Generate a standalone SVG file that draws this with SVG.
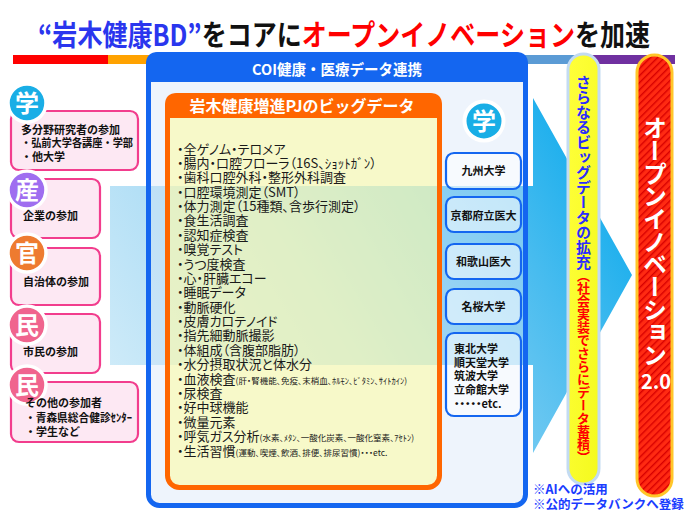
<svg xmlns="http://www.w3.org/2000/svg" width="700" height="521" viewBox="0 0 700 521">
<defs>
  <linearGradient id="bandGrad" gradientUnits="userSpaceOnUse" x1="110" y1="420" x2="620" y2="120">
    <stop offset="0" stop-color="#d4edf9"/>
    <stop offset="0.4" stop-color="#9ed7f4"/>
    <stop offset="0.75" stop-color="#48bcef"/>
    <stop offset="1" stop-color="#05a8ec"/>
  </linearGradient>
  <linearGradient id="yellowGrad" x1="0" y1="0" x2="1" y2="1">
    <stop offset="0" stop-color="#ffff3a"/>
    <stop offset="1" stop-color="#f4fa1e"/>
  </linearGradient>
  <pattern id="hatch" width="5" height="5" patternUnits="userSpaceOnUse" patternTransform="rotate(45)">
    <rect width="5" height="5" fill="#ff2a12"/>
    <rect width="1.4" height="5" fill="#d80000"/>
  </pattern>
</defs>
<style>
  text { font-family: "Noto Sans CJK JP", "Noto Sans", sans-serif; }
  .b { font-weight: bold; }
  .pbox { fill: #fde8f3; stroke: #f23d8d; stroke-width: 2.2; }
  .ring { stroke: #ffffff; stroke-width: 3.5; }
  .badge { fill: #ffffff; font-size: 24px; font-weight: bold; text-anchor: middle; }
  .ltxt { font-size: 11px; font-weight: bold; fill: #111111; }
  .item { font-size: 13px; fill: #1a1a1a; font-feature-settings: "palt"; }
  .small { font-size: 8.5px; }
  .ubox { fill: #ffffff; fill-opacity: 0.55; stroke: #1466f0; stroke-width: 2.2; }
  .utxt { font-size: 11px; font-weight: bold; fill: #111111; text-anchor: middle; }
  .note { font-size: 12.5px; font-weight: bold; fill: #1a3cff; }
  .vert { writing-mode: vertical-rl; font-weight: bold; }
</style>

<rect width="700" height="521" fill="#ffffff"/>

<!-- title -->
<g id="title">
  <text x="38" y="46" font-size="29" class="b" textLength="612" lengthAdjust="spacingAndGlyphs"><tspan fill="#2a36ee">“岩木健康BD”</tspan><tspan fill="#111111">をコアに</tspan><tspan fill="#ff0000">オープンイノベーション</tspan><tspan fill="#111111">を加速</tspan></text>
  <rect x="13" y="55" width="95" height="9" fill="#ff0000"/>
  <rect x="108" y="55" width="95" height="9" fill="#ffa200"/>
  <rect x="203" y="55" width="94" height="9" fill="#ffe600"/>
  <rect x="297" y="55" width="95" height="9" fill="#70ad47"/>
  <rect x="392" y="55" width="94" height="9" fill="#92d050"/>
  <rect x="486" y="55" width="95" height="9" fill="#5b9bd5"/>
  <rect x="581" y="55" width="94" height="9" fill="#7030a0"/>
</g>

<!-- connectors: big flow arrow -->
<g id="connectors">
  <polygon id="flow-arrow" points="110,186 533,186 533,98 632,275 533,453 533,365 110,365" fill="url(#bandGrad)"/>
</g>

<!-- left participants -->
<g id="node-gaku">
  <rect class="pbox" x="11" y="111" width="127" height="59" rx="8"/>
  <circle class="ring" cx="27" cy="103" r="19" fill="#19aee6"/>
  <text class="badge" x="27" y="111.5">学</text>
  <text class="ltxt" x="21" y="134">多分野研究者の参加</text>
  <text class="ltxt" x="21" y="147" textLength="112" lengthAdjust="spacingAndGlyphs">・弘前大学各講座・学部</text>
  <text class="ltxt" x="21" y="161">・他大学</text>
</g>
<g id="node-san">
  <rect class="pbox" x="11" y="179" width="89" height="59" rx="8"/>
  <circle class="ring" cx="27" cy="190" r="19" fill="#9f6ef0"/>
  <text class="badge" x="27" y="198.5">産</text>
  <text class="ltxt" x="23" y="220">企業の参加</text>
</g>
<g id="node-kan">
  <rect class="pbox" x="11" y="248" width="89" height="57" rx="8"/>
  <circle class="ring" cx="27" cy="253" r="19" fill="#ee7b30"/>
  <text class="badge" x="27" y="261.5">官</text>
  <text class="ltxt" x="23" y="286">自治体の参加</text>
</g>
<g id="node-min">
  <rect class="pbox" x="11" y="314" width="89" height="59" rx="8"/>
  <circle class="ring" cx="27" cy="325" r="19" fill="#f0648e"/>
  <text class="badge" x="27" y="333.5">民</text>
  <text class="ltxt" x="23" y="356">市民の参加</text>
</g>
<g id="node-other">
  <rect class="pbox" x="11" y="382" width="127" height="60" rx="8"/>
  <circle class="ring" cx="27" cy="385" r="19" fill="#f0648e"/>
  <text class="badge" x="27" y="393.5">民</text>
  <text class="ltxt" x="25" y="407">その他の参加者</text>
  <text class="ltxt" x="25" y="422" textLength="107" lengthAdjust="spacingAndGlyphs">・青森県総合健診ｾﾝﾀｰ</text>
  <text class="ltxt" x="25" y="436">・学生など</text>
</g>

<!-- COI main box -->
<g id="node-coi">
  <rect x="148.5" y="54.5" width="377" height="451" rx="11" fill="#d5e4f8" fill-opacity="0.4" stroke="#1466f0" stroke-width="5"/>
  <path d="M146,82 V64 Q146,52 158,52 H516 Q528,52 528,64 V82 Z" fill="#1466f0"/>
  <text x="337" y="75" font-size="14.5" class="b" fill="#ffffff" text-anchor="middle">COI健康・医療データ連携</text>
</g>

<!-- Iwaki big data box -->
<g id="node-bigdata">
  <rect x="167.5" y="95.5" width="272" height="392" rx="12" fill="#fefba6" fill-opacity="0.6" stroke="#ff6600" stroke-width="5"/>
  <path d="M165,118 V105 Q165,93 177,93 H430 Q442,93 442,105 V118 Z" fill="#ff6600"/>
  <text x="302" y="112" font-size="16" class="b" fill="#ffffff" text-anchor="middle">岩木健康増進PJのビッグデータ</text>
  <text class="item" x="177" y="153.5">・全ゲノム・テロメア</text>
  <text class="item" x="177" y="167.9">・腸内・口腔フローラ（16S、ｼｮｯﾄｶﾞﾝ）</text>
  <text class="item" x="177" y="182.3">・歯科口腔外科・整形外科調査</text>
  <text class="item" x="177" y="196.6">・口腔環境測定（SMT）</text>
  <text class="item" x="177" y="211">・体力測定（15種類、含歩行測定）</text>
  <text class="item" x="177" y="225.4">・食生活調査</text>
  <text class="item" x="177" y="239.8">・認知症検査</text>
  <text class="item" x="177" y="254.2">・嗅覚テスト</text>
  <text class="item" x="177" y="268.5">・うつ度検査</text>
  <text class="item" x="177" y="282.9">・心・肝臓エコー</text>
  <text class="item" x="177" y="297.3">・睡眠データ</text>
  <text class="item" x="177" y="311.7">・動脈硬化</text>
  <text class="item" x="177" y="326.1">・皮膚カロテノイド</text>
  <text class="item" x="177" y="340.4">・指先細動脈撮影</text>
  <text class="item" x="177" y="354.8">・体組成（含腹部脂肪）</text>
  <text class="item" x="177" y="369.2">・水分摂取状況と体水分</text>
  <text class="item" x="177" y="383.6">・血液検査<tspan class="small">(肝・腎機能、免疫、末梢血、ﾎﾙﾓﾝ、ﾋﾞﾀﾐﾝ、ｻｲﾄｶｲﾝ)</tspan></text>
  <text class="item" x="177" y="398">・尿検査</text>
  <text class="item" x="177" y="412.3">・好中球機能</text>
  <text class="item" x="177" y="426.7">・微量元素</text>
  <text class="item" x="177" y="441.1">・呼気ガス分析<tspan class="small">(水素、ﾒﾀﾝ、一酸化炭素、一酸化窒素、ｱｾﾄﾝ)</tspan></text>
  <text class="item" x="177" y="455.5">・生活習慣<tspan class="small">(運動、喫煙、飲酒、排便、排尿習慣)・・・etc.</tspan></text>
</g>

<!-- universities -->
<g id="node-univ-badge">
  <circle cx="484" cy="121" r="19.5" fill="#19aee6" stroke="#ffffff" stroke-width="4"/>
  <text class="badge" x="484" y="129.5">学</text>
</g>
<g id="node-kyushu">
  <rect class="ubox" x="446" y="153" width="75" height="36" rx="8"/>
  <text class="utxt" x="483.5" y="175">九州大学</text>
</g>
<g id="node-kyoto">
  <rect class="ubox" x="446" y="197" width="75" height="35" rx="8"/>
  <text class="utxt" x="483.5" y="219.5">京都府立医大</text>
</g>
<g id="node-wakayama">
  <rect class="ubox" x="446" y="244" width="75" height="35" rx="8"/>
  <text class="utxt" x="483.5" y="266">和歌山医大</text>
</g>
<g id="node-meio">
  <rect class="ubox" x="446" y="289" width="75" height="35" rx="8"/>
  <text class="utxt" x="483.5" y="311">名桜大学</text>
</g>
<g id="node-others-univ">
  <rect class="ubox" x="446" y="333" width="75" height="83" rx="8"/>
  <text class="ltxt" x="454" y="353">東北大学</text>
  <text class="ltxt" x="454" y="366.5">順天堂大学</text>
  <text class="ltxt" x="454" y="380">筑波大学</text>
  <text class="ltxt" x="454" y="393.5">立命館大学</text>
  <text class="ltxt" x="454" y="408" style="font-feature-settings: 'palt'">・・・・・etc.</text>
</g>

<!-- expansion bar -->
<g id="node-expansion">
  <rect x="568" y="54" width="31" height="430" rx="15.5" fill="url(#yellowGrad)" stroke="#c3dbf2" stroke-width="3"/>
  <text class="vert" x="583.5" y="75" font-size="15" fill="#2b2bff">さらなるビッグデータの拡充</text>
  <text class="vert" x="583.5" y="269" font-size="13" fill="#ff0000">（社会実装でさらにデータ蓄積）</text>
</g>

<!-- open innovation bar -->
<g id="node-open-innovation">
  <rect x="637" y="55" width="35" height="441" rx="17.5" fill="url(#hatch)" stroke="#ffc629" stroke-width="3"/>
  <text class="vert" x="655" y="116" font-size="24" fill="#ffffff" letter-spacing="-1.3">オープンイノベーション</text>
  <text x="656" y="389" font-size="20" class="b" fill="#ffffff" text-anchor="middle">2.0</text>
</g>

<!-- notes -->
<g id="notes">
  <text class="note" x="533" y="494">※AIへの活用</text>
  <text class="note" x="533" y="509">※公的データバンクへ登録</text>
</g>
</svg>
